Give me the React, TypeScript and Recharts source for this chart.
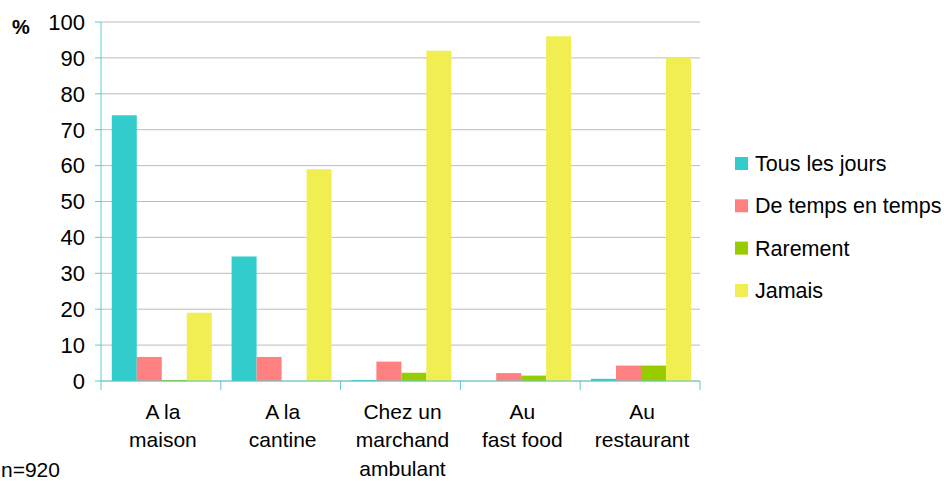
import { BarChart, Bar, XAxis, YAxis, CartesianGrid } from "recharts";

const categories = ["A la\nmaison", "A la\ncantine", "Chez un\nmarchand\nambulant", "Au\nfast food", "Au\nrestaurant"];
const tousLesJours = [74, 34.7, 0.3, 0, 0.6];
const deTempsEnTemps = [6.7, 6.7, 5.4, 2.2, 4.3];
const rarement = [0.3, 0, 2.3, 1.5, 4.3];
const jamais = [19, 59, 92, 96, 90.2];
const yTicks = [0, 10, 20, 30, 40, 50, 60, 70, 80, 90, 100];

const series = [
  { key: "tous", name: "Tous les jours", color: "#33CCCC" },
  { key: "temps", name: "De temps en temps", color: "#FF8080" },
  { key: "rarement", name: "Rarement", color: "#99CC00" },
  { key: "jamais", name: "Jamais", color: "#F0EE50" },
];

const data = categories.map((c, i) => ({
  cat: c,
  tous: tousLesJours[i],
  temps: deTempsEnTemps[i],
  rarement: rarement[i],
  jamais: jamais[i],
}));

const FONT = '"Liberation Sans", Arial, Helvetica, sans-serif';
const AXIS = "#5CCBD0";
const BAND = 599 / 5;

function CatTick(props: any) {
  const { x, y, payload, index } = props;
  const lines = String(payload.value).split("\n");
  const gaps = [0, 28, 57];
  return (
    <g>
      <line x1={x - BAND / 2} x2={x - BAND / 2} y1={y} y2={y + 9} stroke={AXIS} strokeWidth={1} />
      {index === categories.length - 1 && (
        <line x1={x + BAND / 2} x2={x + BAND / 2} y1={y} y2={y + 9} stroke={AXIS} strokeWidth={1} />
      )}
      <text textAnchor="middle" fontSize={21} fontFamily={FONT} fill="#000">
        {lines.map((l, i) => (
          <tspan key={i} x={x + 2} y={y + 38 + gaps[i]}>
            {l}
          </tspan>
        ))}
      </text>
    </g>
  );
}

export default function App() {
  return (
    <div style={{ position: "relative", width: 944, height: 481, background: "#fff", fontFamily: FONT }}>
      <style>{"body{margin:0}"}</style>
      <BarChart
        width={944}
        height={481}
        data={data}
        margin={{ top: 22, right: 244, bottom: 0, left: 41 }}
        barCategoryGap="9%"
        barGap={0}
      >
        <CartesianGrid vertical={false} stroke="#BDBDBD" />
        <XAxis
          dataKey="cat"
          height={100}
          interval={0}
          stroke={AXIS}
          tickLine={false}
          tickSize={0}
          tickMargin={0}
          tick={<CatTick />}
        />
        <YAxis
          width={60}
          domain={[0, 100]}
          ticks={yTicks}
          interval={0}
          stroke={AXIS}
          tickSize={6}
          tickMargin={10}
          tick={{ fill: "#000", fontSize: 22, fontFamily: FONT }}
        />
        {series.map((s) => (
          <Bar key={s.key} dataKey={s.key} name={s.name} fill={s.color} isAnimationActive={false} />
        ))}
      </BarChart>
      <svg width={944} height={481} style={{ position: "absolute", left: 0, top: 0, pointerEvents: "none" }}>
        <text x={12} y={34} fontSize={20} fontWeight="bold" fontFamily={FONT} fill="#000">
          %
        </text>
        <text x={1} y={477} fontSize={21} fontFamily={FONT} fill="#000">
          n=920
        </text>
        {series.map((s, i) => (
          <g key={s.key}>
            <rect x={735} y={157 + i * 42.3} width={13} height={13} fill={s.color} />
            <text x={755} y={171 + i * 42.3} fontSize={21.5} fontFamily={FONT} fill="#000">
              {s.name}
            </text>
          </g>
        ))}
      </svg>
    </div>
  );
}
